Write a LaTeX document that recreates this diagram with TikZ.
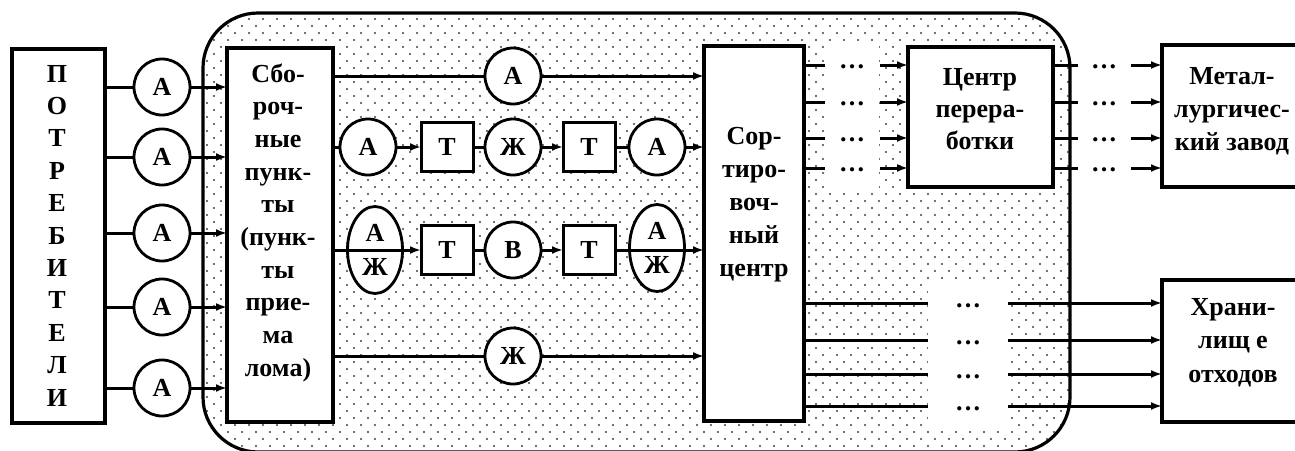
\documentclass[tikz,border=0pt]{standalone}
\usepackage{fontspec}
\setmainfont{Liberation Serif}
\usetikzlibrary{arrows.meta,shapes.geometric}
\newcommand\strutA{\rule{0pt}{20pt}}
\begin{document}
\begin{tikzpicture}[x=1pt,y=-1pt,
  every node/.style={inner sep=0pt, outer sep=0pt},
  box/.style={draw, line width=3.2pt, fill=white, rectangle},
  circ/.style={draw, line width=2.8pt, fill=white, circle, minimum size=56pt, font=\bfseries\fontsize{26}{26}\selectfont},
  oval/.style={draw, line width=2.8pt, fill=white, ellipse, minimum width=55pt, minimum height=87pt, align=center, font=\bfseries\fontsize{26}{34}\selectfont},
  tbox/.style={draw, line width=3pt, fill=white, rectangle, minimum width=52pt, minimum height=49pt, font=\bfseries\fontsize{26}{26}\selectfont},
  lbl/.style={align=center, anchor=north, font=\bfseries\fontsize{26}{33}\selectfont},
  ln/.style={line width=3pt},
  arr/.style={line width=3pt, -{Latex[length=11pt,width=8pt]}},
  dts/.style={font=\bfseries\fontsize{26}{26}\selectfont}
]
\useasboundingbox (0,0) rectangle (1295,450);
% dotted background region
\begin{scope}
  \clip[rounded corners=55pt] (203,13) rectangle (1070,452);
  \foreach \j in {0,...,64} {
    \fill[black!75] \foreach \i in {0,...,62} { ({200+14*\i+7*mod(\j,2)}, {12+7*\j}) circle (1.05pt) };
  }
\end{scope}
\fill[white] (828,42) rectangle (879,189);
\fill[white] (928,281) rectangle (1008,430);
\draw[line width=3.2pt, rounded corners=55pt] (203,13) rectangle (1070,452);

% big boxes
\node[box, minimum width=93pt, minimum height=374pt] (pot) at (58.5,236) {};
\node[lbl, font=\bfseries\fontsize{26}{32.4}\selectfont] (potT) at (57,62) {\strutA П\\О\\Т\\Р\\Е\\Б\\И\\Т\\Е\\Л\\И};
\node[box, minimum width=106pt, minimum height=374pt] (sbor) at (280,235) {};
\node[lbl, font=\bfseries\fontsize{26}{32.7}\selectfont] (sborT) at (278,62) {\strutA Сбо-\\роч-\\ные\\пунк-\\ты\\(пунк-\\ты\\прие-\\ма\\лома)};
\node[box, minimum width=100pt, minimum height=375pt] (sort) at (754,233.5) {};
\node[lbl] (sortT) at (754,124) {\strutA Сор-\\тиро-\\воч-\\ный\\центр};
\node[box, minimum width=145pt, minimum height=140pt] (proc) at (980.5,117) {};
\node[lbl, font=\bfseries\fontsize{26}{32}\selectfont] (procT) at (980,65) {\strutA Центр\\перера-\\ботки};
\node[box, minimum width=148pt, minimum height=142pt] (metal) at (1236,116) {};
\node[lbl] (metalT) at (1232,64) {\strutA Метал-\\лургичес-\\кий завод};
\node[box, minimum width=148pt, minimum height=142pt] (store) at (1236,351) {};
\node[lbl, font=\bfseries\fontsize{26}{33.5}\selectfont] (storeT) at (1233,295) {\strutA Храни-\\лищ е\\отходов};

% first column of circles
\foreach \y [count=\k] in {87,157,233,307,388} {
  \node[circ] (a\k) at (162,\y) {А};
  \draw[ln] (pot.east |- a\k) -- (a\k);
  \draw[arr] (a\k) -- (sbor.west |- a\k);
}

% middle chains
\node[circ] (c1) at (513,76) {А};
\node[circ] (c2a) at (368,147) {А};
\node[tbox] (t2a) at (447,147) {Т};
\node[circ] (c2b) at (513,147) {Ж};
\node[tbox] (t2b) at (589,147) {Т};
\node[circ] (c2c) at (657,147) {А};
\node[oval] (e3a) at (375,250) {А\\Ж};
\node[tbox] (t3a) at (447,250) {Т};
\node[circ] (c3b) at (513,250) {В};
\node[tbox] (t3b) at (589,250) {Т};
\node[oval] (e3b) at (657,248) {А\\Ж};
\node[circ] (c4) at (513,356) {Ж};

\draw[ln] (sbor.east |- c1) -- (c1);
\draw[arr] (c1) -- (sort.west |- c1);

\draw[ln] (sbor.east |- c2a) -- (c2a);
\draw[arr] (c2a) -- (t2a);
\draw[ln] (t2a) -- (c2b);
\draw[arr] (c2b) -- (t2b);
\draw[ln] (t2b) -- (c2c);
\draw[arr] (c2c) -- (sort.west |- c2c);

\draw[arr] (sbor.east |- t3a) -- (t3a);
\draw[ln] (t3a) -- (c3b);
\draw[arr] (c3b) -- (t3b);
\draw[arr] (t3b) -- (sort.west |- t3b);

\draw[ln] (sbor.east |- c4) -- (c4);
\draw[arr] (c4) -- (sort.west |- c4);

% sorting centre -> processing centre -> metallurgical plant
\foreach \y [count=\k] in {65,102,138,168} {
  \coordinate (r\k) at (0,\y);
  \draw[ln] (sort.east |- r\k) -- ++(21,0);
  \node[dts] (dl\k) at (852,\y+2) {…};
  \draw[arr] (proc.west |- r\k) ++(-28,0) -- (proc.west |- r\k);
  \draw[ln] (proc.east |- r\k) -- ++(25,0);
  \node[dts] (dr\k) at (1104,\y+2) {…};
  \draw[arr] (metal.west |- r\k) ++(-31,0) -- (metal.west |- r\k);
}

% sorting centre -> waste storage
\foreach \y [count=\k] in {303,340,374,406} {
  \coordinate (b\k) at (0,\y);
  \draw[ln] (sort.east |- b\k) -- ++(124,0);
  \node[dts] (db\k) at (968,\y+3) {…};
  \draw[arr] (store.west |- b\k) ++(-154,0) -- (store.west |- b\k);
}
\end{tikzpicture}
\end{document}
